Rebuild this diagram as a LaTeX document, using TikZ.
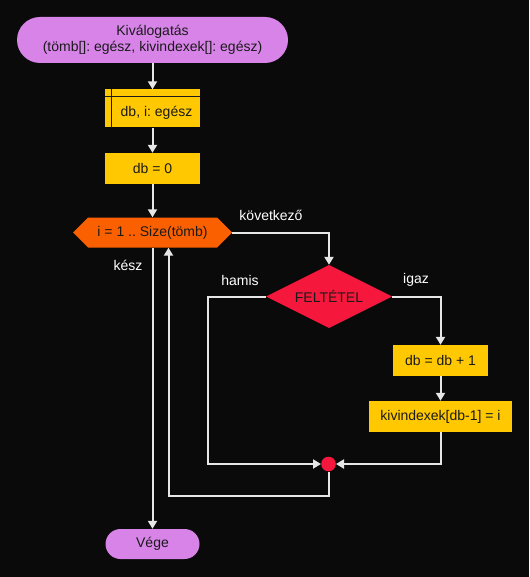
\documentclass[tikz,border=0pt]{standalone}
\usepackage{fontspec}
\setmainfont{Liberation Sans}
\usetikzlibrary{arrows.meta}
\frenchspacing

\definecolor{bgdark}{HTML}{0A0A0A}
\definecolor{termviolet}{HTML}{D883E8}
\definecolor{procyellow}{HTML}{FFC800}
\definecolor{looporange}{HTML}{FA6000}
\definecolor{condred}{HTML}{F5173C}
\definecolor{darktext}{HTML}{1A1A1A}
\definecolor{linegray}{HTML}{E6E6E6}

\tikzset{
  term/.style={fill=termviolet, text=darktext, inner sep=0pt, align=center},
  procbox/.style={fill=procyellow, text=darktext, inner sep=0pt, minimum height=31pt},
  shapetext/.style={text=darktext, inner sep=0pt},
  flow/.style={draw=linegray, line width=2pt, -{Triangle[length=8pt,width=9pt]}},
  lbl/.style={text=white, inner sep=1pt}
}

\begin{document}
\begin{tikzpicture}[x=1pt, y=-1pt, font=\fontsize{14}{16}\selectfont]
    \fill[bgdark] (0,0) rectangle (529,577);
    \useasboundingbox (0,0) rectangle (529,577);

    % main column
    \node[term, minimum width=271pt, minimum height=46pt, rounded corners=23pt] (start) at (152.5,40) {Kiválogatás\\(tömb[]: egész, kivindexek[]: egész)};
    \node[procbox, minimum width=95pt, minimum height=38pt] (decl) at (152.5,108.5) {};
    \draw[darktext, line width=1.3pt] ([xshift=7pt]decl.north west) -- ([xshift=7pt]decl.south west);
    \draw[darktext, line width=1.3pt] ([yshift=-7.5pt]decl.north west) -- ([yshift=-7.5pt]decl.north east);
    \node[shapetext] (decltext) at (156.5,112.5) {db, i: egész};
    \node[procbox, minimum width=95pt] (dbzero) at (152.5,168.5) {db = 0};

    % loop header
    \fill[looporange] (73,232.5) -- (88,217.5) -- (217,217.5) -- (232,232.5) -- (217,247.5) -- (88,247.5) -- cycle;
    \node[shapetext, minimum width=159pt, minimum height=30pt] (loop) at (152.5,232.5) {i = 1 .. Size(tömb)};

    % branch
    \fill[condred] (266,296.5) -- (329,265) -- (392,296.5) -- (329,328) -- cycle;
    \node[shapetext, minimum width=126pt, minimum height=63pt] (cond) at (329,296.5) {FELTÉTEL};
    \node[procbox, minimum width=95pt] (inc) at (440.5,360.5) {db = db + 1};
    \node[procbox, minimum width=143pt] (store) at (440.5,416.5) {kivindexek[db-1] = i};
    \node[circle, fill=condred, inner sep=0pt, minimum size=14.6pt] (merge) at (328.5,464) {};
    \node[term, minimum width=94pt, minimum height=30pt, rounded corners=15pt] (end) at (152.5,544) {Vége};

    \coordinate (hamisbend) at (208,464);
    \coordinate (backbend) at (168.5,496);

    % connectors
    \draw[flow] (start) -- (decl);
    \draw[flow] (decl) -- (dbzero);
    \draw[flow] (dbzero) -- (loop);
    \draw[flow] (loop.east) -| (cond.north);
    \draw[flow] (cond.east) -| (inc.north);
    \draw[flow] (inc) -- (store);
    \draw[flow] (store.south) |- (merge.east);
    \draw[flow] (cond.west) -| (hamisbend) -- (merge.west);
    \draw[flow] (merge.south) |- (backbend) -- ([xshift=16pt]loop.south);
    \draw[flow] (loop.south) -- (end.north);

    % labels
    \node[lbl] (nextlbl) at (271,215) {következő};
    \node[lbl] (donelbl) at (128,265) {kész};
    \node[lbl] (falselbl) at (240,280) {hamis};
    \node[lbl] (truelbl) at (416,280) {igaz};
\end{tikzpicture}
\end{document}
